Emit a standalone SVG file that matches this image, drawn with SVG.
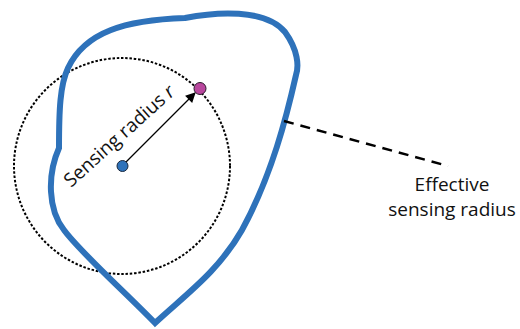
<svg xmlns="http://www.w3.org/2000/svg" width="520" height="329" viewBox="0 0 520 329">
<defs>
<style>
.t{font-family:"Open Sans","Liberation Sans",sans-serif;font-size:19px;fill:#111}
</style>
<marker id="ah" viewBox="0 0 10 10" refX="9" refY="5" markerWidth="11" markerHeight="10" orient="auto" markerUnits="userSpaceOnUse">
<path d="M0,0 L10,5 L0,10 Z" fill="#000"/>
</marker>
</defs>
<rect width="520" height="329" fill="#fff"/>
<g id="sensing-circle">
<circle cx="122" cy="166" r="108" fill="none" stroke="#000" stroke-width="2" stroke-dasharray="2.5,1.8"/>
</g>
<g id="effective-region">
<path d="M155,323 C125,292 80,252 64,230 C48,210 47,175 59,148 C59,110 60,85 68,68 C85,32 125,20 185,18 C215,12 265,8 285,32 C298,50 299,66 296,75 C287,115 272,175 242,230 C218,272 185,295 155,323 Z" fill="none" stroke="#2E72BA" stroke-width="6" stroke-linejoin="miter"/>
</g>
<g id="connectors">
<line x1="122" y1="166" x2="195" y2="93" stroke="#000" stroke-width="1.3" marker-end="url(#ah)"/>
<line x1="284" y1="121" x2="448" y2="166" stroke="#000" stroke-width="2.5" stroke-dasharray="10,7"/>
</g>
<g id="center-node">
<circle cx="122.5" cy="166" r="5.5" fill="#2E72BA" stroke="#1a2a40" stroke-width="1"/>
</g>
<g id="edge-node">
<circle cx="200" cy="88.5" r="6" fill="#B9479E" stroke="#2a1a2a" stroke-width="1"/>
</g>
<g id="radius-label">
<text class="t" font-size="20" transform="translate(71,188) rotate(-42)">Sensing radius <tspan font-style="italic">r</tspan></text>
</g>
<g id="effective-label">
<text class="t" x="452" y="191" text-anchor="middle">Effective</text>
<text class="t" x="452" y="216" text-anchor="middle">sensing radius</text>
</g>
</svg>
